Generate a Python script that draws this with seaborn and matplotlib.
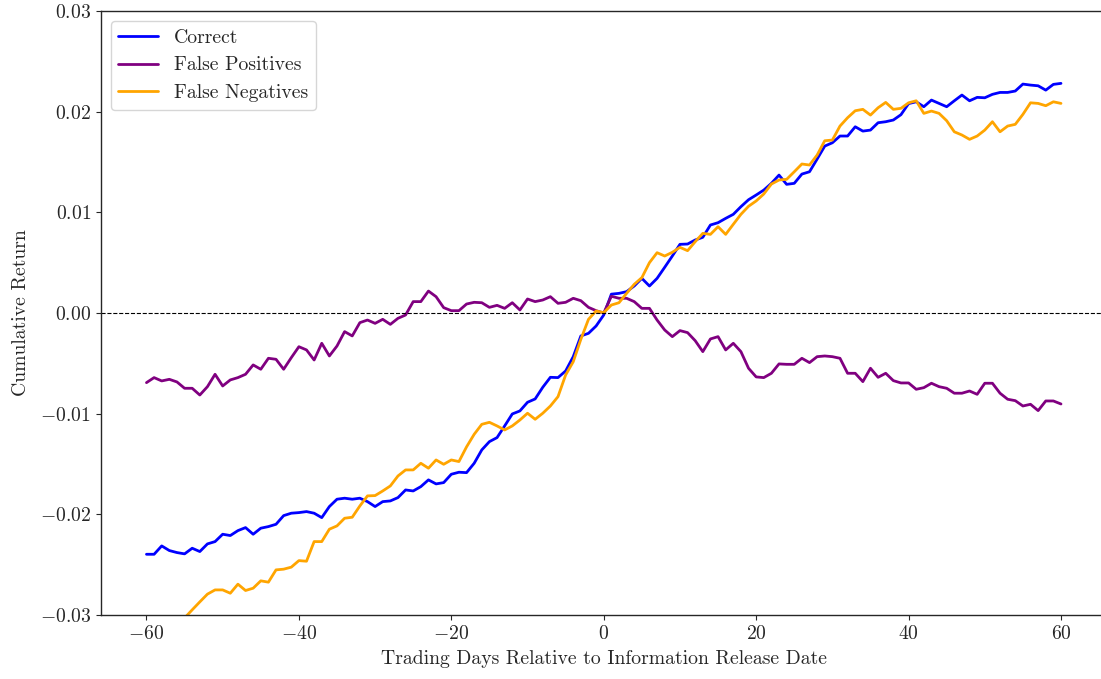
import numpy as np
import pandas as pd
import matplotlib
matplotlib.use("Agg")
import matplotlib.pyplot as plt
import seaborn as sns

days = list(range(-60, 61))

correct = [
    -0.02397, -0.02397, -0.02314, -0.02360, -0.02380, -0.02393, -0.02337, -0.02370, -0.02294, -0.02271,
    -0.02198, -0.02211, -0.02162, -0.02132, -0.02198, -0.02138, -0.02122, -0.02099, -0.02013, -0.01989,
    -0.01983, -0.01973, -0.01989, -0.02033, -0.01923, -0.01850, -0.01840, -0.01850, -0.01840, -0.01874,
    -0.01923, -0.01874, -0.01867, -0.01834, -0.01758, -0.01768, -0.01725, -0.01658, -0.01698, -0.01685,
    -0.01602, -0.01582, -0.01586, -0.01493, -0.01360, -0.01278, -0.01238, -0.01122, -0.01003, -0.00973,
    -0.00887, -0.00854, -0.00738, -0.00639, -0.00642, -0.00576, -0.00434, -0.00228, -0.00202, -0.00129,
    -0.00020, 0.00187, 0.00195, 0.00212, 0.00268, 0.00344, 0.00268, 0.00344, 0.00454, 0.00566,
    0.00682, 0.00685, 0.00725, 0.00752, 0.00874, 0.00897, 0.00940, 0.00980, 0.01056, 0.01125,
    0.01172, 0.01221, 0.01288, 0.01370, 0.01278, 0.01288, 0.01380, 0.01403, 0.01529, 0.01658,
    0.01691, 0.01758, 0.01758, 0.01850, 0.01807, 0.01817, 0.01890, 0.01900, 0.01917, 0.01970,
    0.02080, 0.02098, 0.02049, 0.02115, 0.02082, 0.02049, 0.02108, 0.02165, 0.02108, 0.02142,
    0.02138, 0.02172, 0.02191, 0.02191, 0.02205, 0.02274, 0.02264, 0.02257, 0.02214, 0.02271,
    0.02281,
]

false_positives = [
    -0.00692, -0.00642, -0.00675, -0.00659, -0.00685, -0.00748, -0.00748, -0.00815, -0.00732, -0.00609,
    -0.00725, -0.00665, -0.00642, -0.00609, -0.00516, -0.00559, -0.00450, -0.00460, -0.00559, -0.00444,
    -0.00335, -0.00367, -0.00467, -0.00301, -0.00427, -0.00328, -0.00185, -0.00228, -0.00096, -0.00070,
    -0.00103, -0.00063, -0.00113, -0.00053, -0.00020, 0.00113, 0.00113, 0.00218, 0.00162, 0.00053,
    0.00023, 0.00023, 0.00089, 0.00106, 0.00102, 0.00056, 0.00076, 0.00046, 0.00102, 0.00030,
    0.00139, 0.00113, 0.00129, 0.00162, 0.00096, 0.00106, 0.00146, 0.00122, 0.00056, 0.00023,
    0.00000, 0.00166, 0.00146, 0.00146, 0.00113, 0.00046, 0.00046, -0.00070, -0.00169, -0.00235,
    -0.00175, -0.00195, -0.00275, -0.00384, -0.00258, -0.00235, -0.00367, -0.00301, -0.00384, -0.00549,
    -0.00635, -0.00642, -0.00599, -0.00506, -0.00510, -0.00510, -0.00450, -0.00493, -0.00434, -0.00427,
    -0.00434, -0.00450, -0.00599, -0.00599, -0.00682, -0.00549, -0.00639, -0.00599, -0.00672, -0.00695,
    -0.00695, -0.00758, -0.00742, -0.00698, -0.00732, -0.00748, -0.00797, -0.00797, -0.00775, -0.00808,
    -0.00698, -0.00698, -0.00797, -0.00857, -0.00871, -0.00924, -0.00907, -0.00970, -0.00874, -0.00874,
    -0.00904,
]

false_negatives = [
    -0.03450, -0.03380, -0.03310, -0.03220, -0.03150, -0.03030, -0.02949, -0.02870, -0.02793, -0.02751,
    -0.02751, -0.02784, -0.02694, -0.02757, -0.02734, -0.02661, -0.02674, -0.02552, -0.02545, -0.02525,
    -0.02460, -0.02466, -0.02271, -0.02271, -0.02148, -0.02115, -0.02039, -0.02029, -0.01917, -0.01817,
    -0.01814, -0.01768, -0.01718, -0.01619, -0.01559, -0.01559, -0.01493, -0.01542, -0.01460, -0.01503,
    -0.01460, -0.01476, -0.01330, -0.01205, -0.01106, -0.01086, -0.01122, -0.01162, -0.01122, -0.01063,
    -0.00996, -0.01056, -0.00996, -0.00924, -0.00831, -0.00616, -0.00484, -0.00261, -0.00063, 0.00020,
    0.00003, 0.00079, 0.00102, 0.00195, 0.00285, 0.00351, 0.00500, 0.00599, 0.00566, 0.00603,
    0.00652, 0.00619, 0.00708, 0.00791, 0.00781, 0.00857, 0.00781, 0.00881, 0.00980, 0.01060,
    0.01113, 0.01182, 0.01281, 0.01321, 0.01328, 0.01403, 0.01480, 0.01470, 0.01569, 0.01711,
    0.01718, 0.01857, 0.01940, 0.02009, 0.02023, 0.01966, 0.02039, 0.02092, 0.02023, 0.02033,
    0.02088, 0.02108, 0.01983, 0.02006, 0.01983, 0.01910, 0.01800, 0.01768, 0.01725, 0.01758,
    0.01817, 0.01900, 0.01800, 0.01857, 0.01874, 0.01973, 0.02088, 0.02082, 0.02059, 0.02098,
    0.02082,
]

series_names = ["Correct", "False Positives", "False Negatives"]
series_colors = ["blue", "purple", "orange"]

df = pd.concat(
    [
        pd.DataFrame({"day": days, "ret": vals, "group": name})
        for name, vals in zip(series_names, [correct, false_positives, false_negatives])
    ],
    ignore_index=True,
)

FS = 14.2

sns.set_style("ticks")
plt.rcParams.update({
    "font.family": "cmr10",
    "mathtext.fontset": "cm",
    "axes.formatter.use_mathtext": True,
    "axes.unicode_minus": True,
    "font.size": FS,
    "axes.linewidth": 1.0,
    "xtick.direction": "out",
    "ytick.direction": "out",
})

fig = plt.figure(figsize=(11.01, 6.79), dpi=100)
ax = fig.add_axes([0.0915, 0.0943, 0.9137, 0.8895])

sns.lineplot(
    data=df, x="day", y="ret", hue="group",
    palette=dict(zip(series_names, series_colors)),
    hue_order=series_names, linewidth=2.0, ax=ax,
)

ax.axhline(0, color="black", linestyle="--", linewidth=0.8)

ax.set_xlim(-66, 66)
ax.set_ylim(-0.03, 0.03)
ax.set_xticks(np.arange(-60, 61, 20))
ax.set_yticks(np.arange(-0.03, 0.031, 0.01))
ax.yaxis.set_major_formatter(matplotlib.ticker.FuncFormatter(
    lambda v, _: "$%.2f$" % v if abs(v) > 1e-9 else "$0.00$"))
ax.tick_params(labelsize=FS)

ax.set_xlabel("Trading Days Relative to Information Release Date", fontsize=FS, labelpad=5)
ax.set_ylabel("Cumulative Return", fontsize=FS, labelpad=7)

leg = ax.legend(loc="upper left", fontsize=FS, frameon=True, framealpha=0.8,
                edgecolor="#cccccc", fancybox=True)
leg.set_title(None)

fig.savefig("out.png", dpi=100)
